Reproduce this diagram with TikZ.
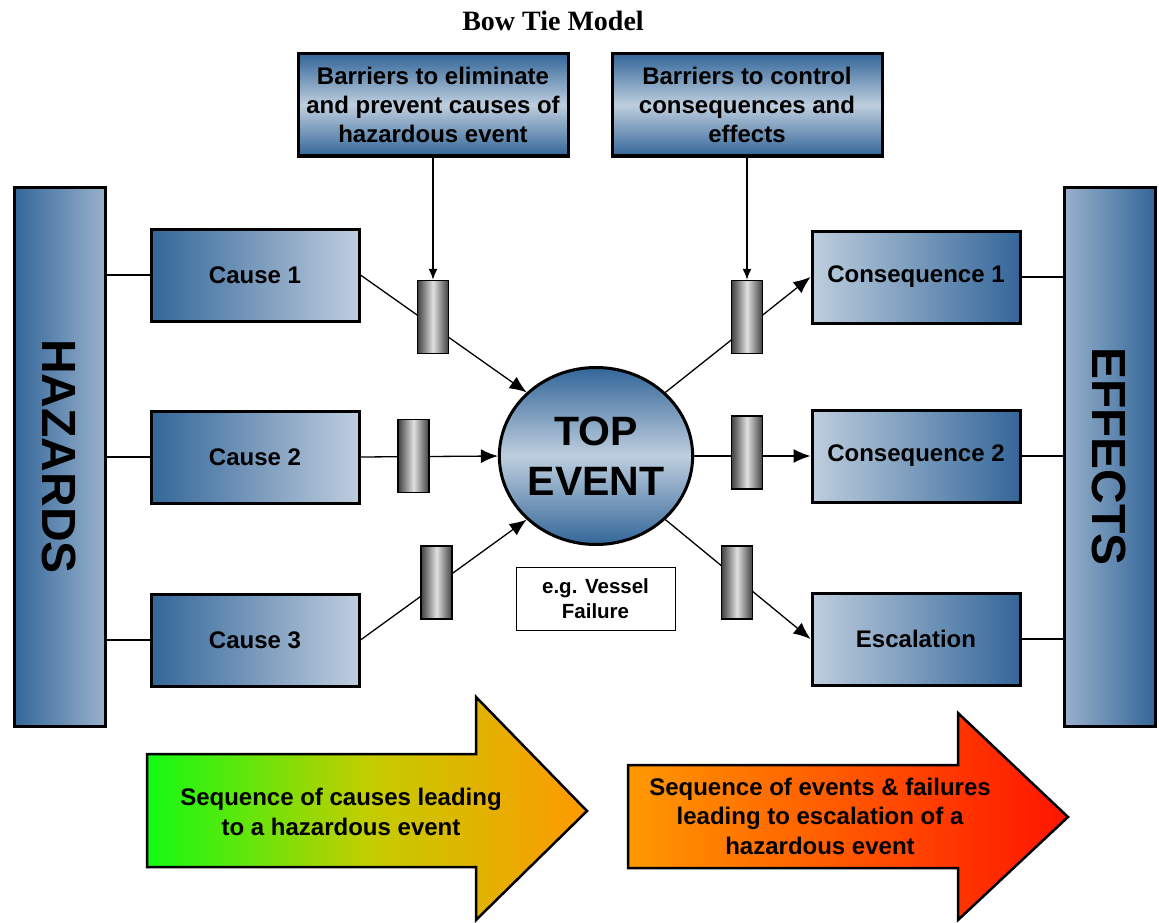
\documentclass[tikz,border=0pt]{standalone}
\usepackage{fontspec}
\usepackage{graphicx}
\setmainfont{Liberation Sans}
\newfontfamily\titlefont{Liberation Serif}
\usetikzlibrary{shapes.geometric,arrows.meta,backgrounds}
\definecolor{bdark}{RGB}{51,102,153}
\definecolor{blight}{RGB}{190,206,222}
\definecolor{bmid}{RGB}{152,177,204}
\definecolor{agreen}{RGB}{20,250,20}
\definecolor{amid}{RGB}{195,205,0}
\definecolor{aorange}{RGB}{255,153,0}
\definecolor{ared}{RGB}{255,20,0}
\tikzset{
  boxtxt/.style={font=\bfseries\fontsize{24}{29}\selectfont, align=center},
  lbox/.style={draw, line width=3pt, minimum width=208pt, minimum height=92pt, inner sep=0pt, left color=bdark, right color=blight, boxtxt},
  rbox/.style={draw, line width=3pt, minimum width=208pt, minimum height=92pt, inner sep=0pt, left color=blight, right color=bdark, boxtxt},
  topbox/.style={draw, line width=3pt, minimum width=270pt, minimum height=102pt, inner sep=0pt, top color=bdark, bottom color=bdark, middle color=blight, boxtxt},
  sidebar/.style={draw, line width=3pt, minimum width=91pt, minimum height=539pt, inner sep=0pt, font=\bfseries\fontsize{48}{48}\selectfont},
  barrier/.style={draw, line width=1.5pt, minimum width=31pt, minimum height=73pt, inner sep=0pt, left color=black!75, right color=black!75, middle color=black!12},
  conn/.style={line width=1.3pt},
  arr/.style={line width=1.3pt, -{Latex[length=17pt,width=14pt]}},
  darr/.style={line width=1.3pt, -{Latex[length=11pt,width=9pt]}},
  bigarrow/.style={draw, line width=2.5pt},
  arrtxt/.style={font=\bfseries\fontsize{24}{29.5}\selectfont, align=center}
}
\begin{document}
\begin{tikzpicture}[x=1pt,y=-1pt]
\useasboundingbox (0,0) rectangle (1159,923);
% title
\node[font=\titlefont\bfseries\fontsize{28}{30}\selectfont] (title) at (553,21) {Bow Tie Model};
% top barrier boxes
\node[topbox] (bar1) at (433,105) {Barriers to eliminate\\and prevent causes of\\hazardous event};
\node[topbox] (bar2) at (747,105) {Barriers to control\\consequences and\\effects};
% side bars
\node[sidebar, left color=bdark, right color=bmid] (haz) at (59.5,456.5) {\rotatebox{-90}{HAZARDS}};
\node[sidebar, left color=bmid, right color=bdark] (eff) at (1109.5,456.5) {\rotatebox{-90}{EFFECTS}};
% causes and consequences
\node[lbox] (c1) at (255,275) {Cause 1};
\node[lbox] (c2) at (255,457) {Cause 2};
\node[lbox] (c3) at (255,640) {Cause 3};
\node[rbox] (q1) at (916,277) {Consequence 1};
\node[rbox] (q2) at (916,456) {Consequence 2};
\node[rbox] (esc) at (916,639) {Escalation};
% top event
\node[ellipse, draw, line width=3pt, minimum width=186pt, minimum height=177pt, inner sep=0pt,
      top color=bdark, bottom color=bdark, middle color=blight,
      font=\bfseries\fontsize{41}{50}\selectfont, align=center] (top) at (596,456) {TOP\\EVENT};
% example box
\node[draw, line width=1pt, minimum width=159pt, minimum height=63pt, inner sep=0pt,
      font=\bfseries\fontsize{20.5}{25}\selectfont, align=center] (eg) at (595.5,598.5) {e.g. Vessel\\Failure};
% small barriers
\node[barrier] (b1) at (433,317) {};
\node[barrier] (b2) at (413.5,456) {};
\node[barrier] (b3) at (436.5,582.5) {};
\node[barrier] (b4) at (747,317) {};
\node[barrier] (b5) at (747,452.5) {};
\node[barrier] (b6) at (737,582.5) {};
% connectors (behind)
\begin{scope}[on background layer]
\draw[conn] (haz.east |- c1.west) -- (c1.west);
\draw[conn] (haz.east |- c2.west) -- (c2.west);
\draw[conn] (haz.east |- c3.west) -- (c3.west);
\draw[conn] (q1.east) -- (eff.west |- q1.east);
\draw[conn] (q2.east) -- (eff.west |- q2.east);
\draw[conn] (esc.east) -- (eff.west |- esc.east);
\draw[arr] (c1.east) -- (top.north west);
\draw[arr] (c2.east) -- (top.west);
\draw[arr] (c3.east) -- (top.south west);
\draw[arr] (top.north east) -- (q1.west);
\draw[arr] (top.east) -- (q2.west);
\draw[arr] (top.south east) -- (esc.west);
\end{scope}
\draw[darr] (bar1.south) -- (b1.north);
\draw[darr] (bar2.south) -- (b4.north);
% big arrows
\draw[bigarrow, left color=agreen, right color=aorange, middle color=amid]
  (147,754) -- (476,754) -- (476,697) -- (587,811) -- (476,920) -- (476,867) -- (147,867) -- cycle;
\node[arrtxt] (seq1) at (341,812) {Sequence of causes leading\\to a hazardous event};
\draw[bigarrow, left color=aorange, right color=ared]
  (628,765) -- (958,765) -- (958,713) -- (1068,817) -- (958,920) -- (958,868) -- (628,868) -- cycle;
\node[arrtxt] (seq2) at (820,816) {Sequence of events \& failures\\leading to escalation of a\\hazardous event};
\end{tikzpicture}
\end{document}
